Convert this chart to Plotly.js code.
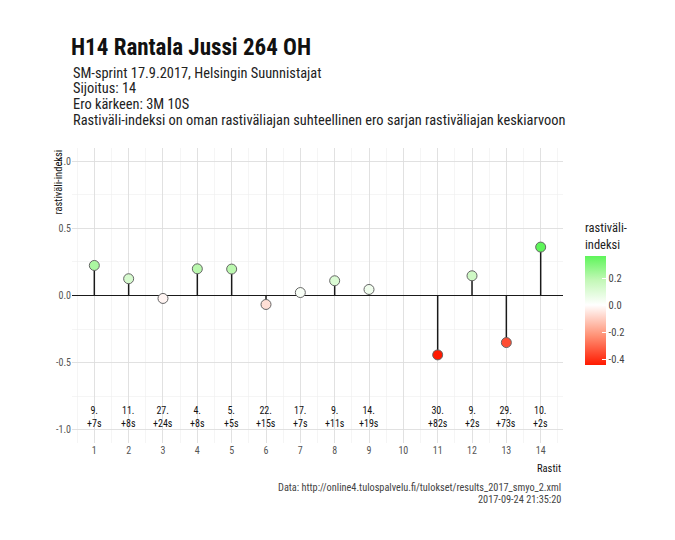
<!DOCTYPE html>
<html>
<head>
<meta charset="utf-8">
<script src="https://cdn.plot.ly/plotly-3.0.1.min.js"></script>
<style>html,body{margin:0;padding:0;background:#fff;}#chart{width:675px;height:540px;}</style>
</head>
<body>
<div id="chart"></div>
<script>
// ---- data ----
const controls = [1, 2, 3, 4, 5, 6, 7, 8, 9, 10, 11, 12, 13, 14];
const indexValues = [0.224, 0.125, -0.022, 0.199, 0.197, -0.067, 0.022, 0.110, 0.045, null, -0.443, 0.147, -0.351, 0.361];
const ranks = ['9.', '11.', '27.', '4.', '5.', '22.', '17.', '9.', '14.', null, '30.', '9.', '29.', '10.'];
const diffs = ['+7s', '+8s', '+24s', '+8s', '+5s', '+15s', '+7s', '+11s', '+19s', null, '+82s', '+2s', '+73s', '+2s'];
const yTickVals = [-1, -0.5, 0, 0.5, 1];
const yTickText = ['-1.0', '-0.5', '0.0', '0.5', '1.0'];
const cbTickVals = [-0.4, -0.2, 0, 0.2];
const cbTickText = ['-0.4', '-0.2', '0.0', '0.2'];
const titleText = 'H14 Rantala Jussi 264 OH';
const subtitleLines = ['SM-sprint 17.9.2017, Helsingin Suunnistajat', 'Sijoitus: 14', 'Ero kärkeen: 3M 10S',
  'Rastiväli-indeksi on oman rastiväliajan suhteellinen ero sarjan rastiväliajan keskiarvoon'];
const captionLines = ['Data: http://online4.tulospalvelu.fi/tulokset/results_2017_smyo_2.xml', '2017-09-24 21:35:20'];

const F = "'Roboto Condensed', 'Liberation Sans Narrow', 'DejaVu Sans Condensed', Roboto, sans-serif";

// stems built from data
const stemX = [], stemY = [];
controls.forEach((c, i) => {
  if (indexValues[i] !== null) { stemX.push(c, c, null); stemY.push(0, indexValues[i], null); }
});
const valid = indexValues.filter(v => v !== null);
const vmin = Math.min(...valid), vmax = Math.max(...valid);
const mid = (0 - vmin) / (vmax - vmin);
const colorscale = [
  [0, '#ff1a00'],
  [mid * 0.5, '#ff9478'],
  [mid, '#ffffff'],
  [mid + (1 - mid) * 0.5, '#c4f8b8'],
  [1, '#5ef55a']
];

const pw = 491, ph = 295, L = 72, T = 148;
const px = v => (v - L) / pw;
const py = v => (T + ph - v) / ph;

const traces = [
  {x: stemX, y: stemY, mode: 'lines', line: {color: '#1a1a1a', width: 1.5}, hoverinfo: 'skip', showlegend: false},
  {x: controls, y: indexValues, mode: 'markers', showlegend: false,
   marker: {size: 10, color: indexValues, colorscale: colorscale, cmin: vmin, cmax: vmax,
     line: {color: '#666666', width: 1},
     colorbar: {x: px(585), xanchor: 'left', y: py(365), yanchor: 'bottom',
       len: 145, lenmode: 'pixels', thickness: 21, thicknessmode: 'pixels', outlinewidth: 0, xpad: 0, ypad: 0,
       tickvals: cbTickVals, ticktext: cbTickText, ticks: 'inside', ticklen: 4, tickcolor: '#ffffff',
       tickfont: {family: F, size: 10.5, color: '#444'},
       title: {text: 'rastiväli-<br>indeksi', side: 'top', font: {family: F, size: 12.5, color: '#222'}}}}}
];

const annotations = controls.map((c, i) => ranks[i] === null ? null : ({
  x: c, y: -0.905, xref: 'x', yref: 'y', text: ranks[i] + '<br>' + diffs[i], showarrow: false,
  font: {family: F, size: 10, color: '#111'}, align: 'center'
})).filter(a => a !== null);

subtitleLines.forEach((s, i) => annotations.push({
  xref: 'paper', yref: 'paper', x: px(71), y: py(73 + i * 15.7), xanchor: 'left', yanchor: 'middle', align: 'left',
  showarrow: false, text: s, font: {family: F, size: 14.4, color: '#222'}
}));
captionLines.forEach((s, i) => annotations.push({
  xref: 'paper', yref: 'paper', x: px(563), y: py(487 + i * 12.3), xanchor: 'right', yanchor: 'middle', align: 'right',
  showarrow: false, text: s, font: {family: F, size: 10.3, color: '#444'}
}));
annotations.push(
  {xref: 'paper', yref: 'paper', x: px(563), y: py(460), xanchor: 'right', yanchor: 'top', showarrow: false,
   text: 'Rastit', font: {family: F, size: 10.5, color: '#111'}},
  {xref: 'paper', yref: 'paper', x: px(58), y: py(148), xanchor: 'center', yanchor: 'top', textangle: -90, showarrow: false,
   text: 'rastiväli-indeksi', font: {family: F, size: 10.5, color: '#111'}}
);

const layout = {
  width: 675, height: 540,
  margin: {l: L, r: 675 - L - pw, t: T, b: 540 - T - ph},
  paper_bgcolor: '#ffffff', plot_bgcolor: '#ffffff',
  showlegend: false,
  title: {text: titleText, x: 71 / 675, xanchor: 'left', xref: 'container', y: 1 - 47 / 540, yanchor: 'middle',
    font: {family: F, size: 23, color: '#111', weight: 'bold'}},
  xaxis: {range: [0.35, 14.65], tickmode: 'array', tickvals: controls, ticktext: controls.map(String),
    showgrid: true, gridcolor: '#dcdcdc', gridwidth: 0.8, zeroline: false, showline: false, ticks: '',
    minor: {dtick: 0.5, tick0: 0.5, showgrid: true, gridcolor: '#efefef', gridwidth: 0.6},
    tickfont: {family: F, size: 10, color: '#555'}},
  yaxis: {range: [-1.1, 1.1], tickmode: 'array', tickvals: yTickVals, ticktext: yTickText,
    showgrid: true, gridcolor: '#dcdcdc', gridwidth: 0.8, zeroline: true, zerolinecolor: '#1a1a1a', zerolinewidth: 1.5,
    showline: false, ticks: '',
    minor: {dtick: 0.25, tick0: 0, showgrid: true, gridcolor: '#efefef', gridwidth: 0.6},
    tickfont: {family: F, size: 10, color: '#555'}},
  annotations: annotations
};

Plotly.newPlot('chart', traces, layout, {displayModeBar: false, staticPlot: true});
</script>
</body>
</html>
